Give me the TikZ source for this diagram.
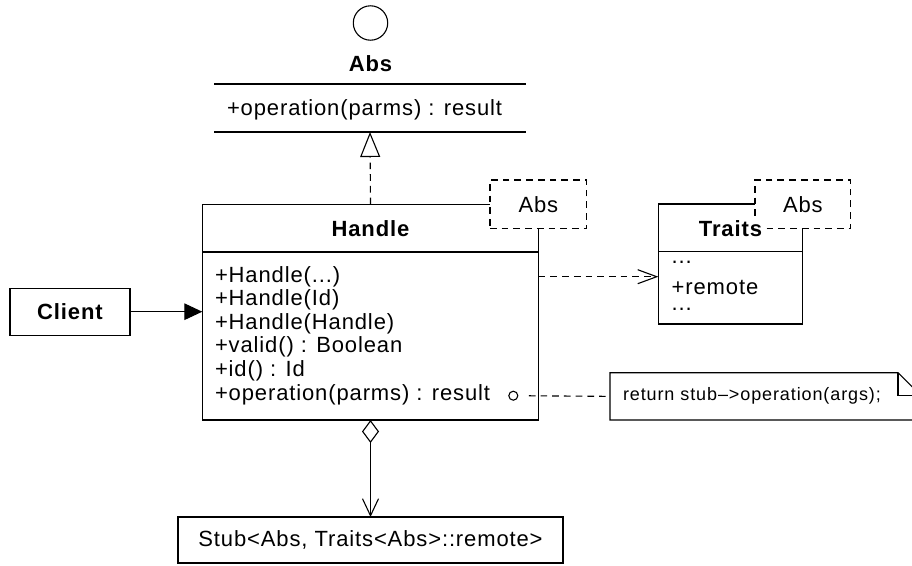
\documentclass[tikz,border=0pt]{standalone}
\usepackage{fontspec}
\setmainfont{Liberation Sans}[LetterSpace=4]
\newfontfamily\notefont{Liberation Sans}[LetterSpace=5]
\usetikzlibrary{arrows.meta}
\begin{document}
\begin{tikzpicture}[x=1pt,y=-1pt, line width=1.1pt,
  every node/.style={inner sep=0pt, outer sep=0pt},
  txt/.style={font=\fontsize{22}{24}\selectfont},
  boldtxt/.style={font=\fontsize{22}{24}\selectfont\bfseries},
  attrtxt/.style={font=\fontsize{22}{23.5}\selectfont, align=left},
  umlbox/.style={draw, fill=white, rectangle},
  dsh/.style={dash pattern=on 6.7pt off 5pt},
  tplbox/.style={draw, fill=white, rectangle, dsh},
]
\useasboundingbox (0,0) rectangle (912,565);

% Interface Abs
\node[draw, circle, minimum size=34.4pt] (absicon) at (370.5,23) {};
\node[boldtxt, anchor=base] (absname) at (370.5,71) {Abs};
\node[minimum width=312pt, minimum height=48pt] (absbody) at (370,108) {};
\draw (absbody.north west) -- (absbody.north east);
\draw (absbody.south west) -- (absbody.south east);
\node[txt, anchor=base west] (absop) at (227,115.5) {+operation(parms) : result};

% Handle
\node[umlbox, minimum width=336.4pt, minimum height=215.7pt] (handle) at (370.5,312.15) {};
\coordinate (hsep) at (0,252);
\draw (handle.west |- hsep) -- (handle.east |- hsep);
\node[boldtxt, anchor=base] (handlename) at (370.5,236) {Handle};
\node[txt, anchor=base west] (op1) at (215,282) {+Handle(...)};
\node[txt, anchor=base west] (op2) at (215,305.6) {+Handle(Id)};
\node[txt, anchor=base west] (op3) at (215,329.2) {+Handle(Handle)};
\node[txt, anchor=base west] (op4) at (215,352.8) {+valid() : Boolean};
\node[txt, anchor=base west] (op5) at (215,376.4) {+id() : Id};
\node[txt, anchor=base west] (op6) at (215,400) {+operation(parms) : result};
\node[tplbox, minimum width=96.7pt, minimum height=48.3pt] (htpl) at (538.35,204.15) {};
\node[txt] (htpltxt) at (htpl.center) {Abs};

% Traits
\node[umlbox, minimum width=144.4pt, minimum height=120pt] (traits) at (730.5,264) {};
\coordinate (tsep) at (0,251.7);
\draw (traits.west |- tsep) -- (traits.east |- tsep);
\node[tplbox, minimum width=95.7pt, minimum height=48.3pt] (ttpl) at (802.85,204.15) {};
\node[txt] (ttpltxt) at (ttpl.center) {Abs};
\node[boldtxt, anchor=base, fill=white, inner sep=3pt] (traitsname) at (730.5,236) {Traits};
\node[attrtxt, anchor=base west] (tattrs) at (671.7,317.5)
  {\raisebox{7pt}{...}\\+remote\\\raisebox{7pt}{...}};

% dependency Handle -> Traits
\coordinate (depy) at (0,276.7);
\draw[dsh, -{Straight Barb[length=19pt,width=14pt]}] (handle.east |- depy) -- (traits.west |- depy);

% Client
\node[umlbox, minimum width=120pt, minimum height=46.7pt] (client) at (70,311.7) {};
\node[boldtxt] (clienttxt) at (client.center) {Client};
\draw[-{Triangle[length=18pt,width=16.6pt]}] (client.east) -- (client.east -| handle.west);

% note
\node[draw, circle, minimum size=9pt] (opdot) at (513.3,395.7) {};
\node[minimum width=311pt, minimum height=47.3pt, anchor=north west] (note) at (610,372.7) {};
\draw (note.north west) -- ([xshift=-23pt]note.north east) -- ([yshift=-23pt]note.north east)
      -- (note.south east) -- (note.south west) -- cycle;
\draw ([xshift=-23pt]note.north east) -- ([xshift=-23pt,yshift=-23pt]note.north east) -- ([yshift=-23pt]note.north east);
\node[anchor=west, font=\notefont\fontsize{18}{20}\selectfont] (notetxt) at (623,396) {return stub–>operation(args);};
\draw[dsh, shorten <=11pt] (opdot.east) -- (note.west);

% Stub
\node[umlbox, minimum width=385pt, minimum height=46pt] (stub) at (370.5,540) {};
\node[txt] (stubtxt) at (stub.center) {Stub<Abs, Traits<Abs>::remote>};
\draw[{Diamond[open,length=23pt,width=17pt]}-{Straight Barb[length=17pt,width=16pt]}] (handle.south) -- (stub.north);

% realization
\draw[dsh, -{Triangle[open,length=25pt,width=20pt]}] (handle.north) -- (absbody.south);
\end{tikzpicture}
\end{document}
